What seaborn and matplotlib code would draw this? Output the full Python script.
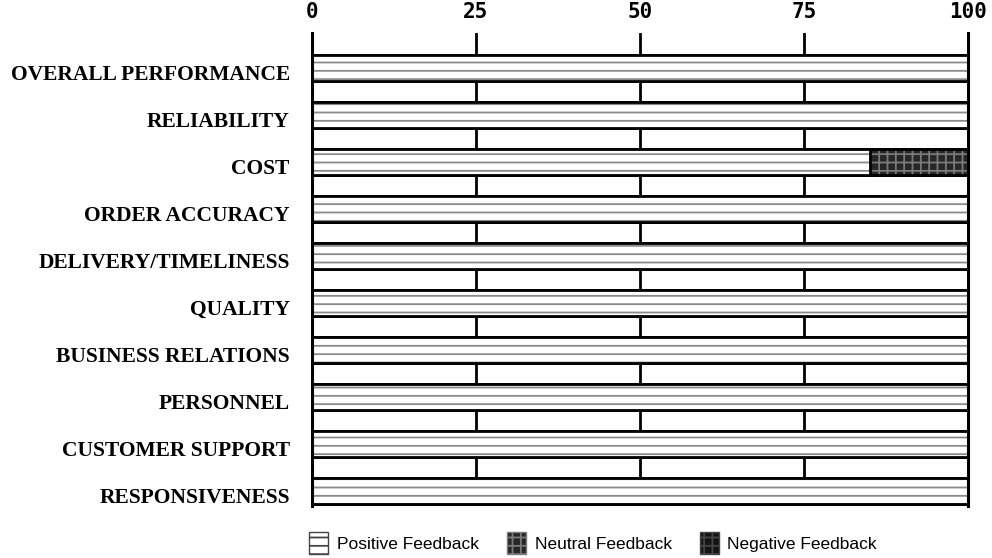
import matplotlib
matplotlib.use("Agg")
import matplotlib.pyplot as plt
import matplotlib.transforms as mtransforms
from matplotlib.patches import Patch
import seaborn as sns
import pandas as pd

categories = ["OVERALL PERFORMANCE", "RELIABILITY", "COST", "ORDER ACCURACY",
              "DELIVERY/TIMELINESS", "QUALITY", "BUSINESS RELATIONS",
              "PERSONNEL", "CUSTOMER SUPPORT", "RESPONSIVENESS"]
positive = [100, 100, 85, 100, 100, 100, 100, 100, 100, 100]
neutral = [0, 0, 15, 0, 0, 0, 0, 0, 0, 0]
negative = [0, 0, 0, 0, 0, 0, 0, 0, 0, 0]
x_ticks = [0, 25, 50, 75, 100]
legend_labels = ["Positive Feedback", "Neutral Feedback", "Negative Feedback"]

df = pd.DataFrame({"category": categories, "positive": positive,
                   "neutral": neutral, "negative": negative})
df["cum_neu"] = df["positive"] + df["neutral"]
df["cum_neg"] = df["cum_neu"] + df["negative"]

sns.set_style("white")
plt.rcParams["hatch.linewidth"] = 1.3
plt.rcParams["text.color"] = "black"
plt.rcParams["xtick.color"] = "black"
plt.rcParams["ytick.color"] = "black"

fig = plt.figure(figsize=(9.92, 5.58), dpi=100)
ax = fig.add_axes([0.3145, 0.0932, 0.9758 - 0.3145, 0.9409 - 0.0932])

styles = [
    ("cum_neg", "#141414", "#444444", "++"),
    ("cum_neu", "#262626", "#7a7a7a", "++"),
    ("positive", "white", "#8a8a8a", "--"),
]
for col, fc, hc, hatch in styles:
    # hatched fill
    n0 = len(ax.patches)
    sns.barplot(data=df, x=col, y="category", orient="h", width=0.55,
                color=fc, saturation=1, ax=ax)
    for p in ax.patches[n0:]:
        p.set_facecolor(fc)
        p.set_edgecolor(hc)
        p.set_hatch(hatch)
        p.set_linewidth(0)
    # black outline
    n1 = len(ax.patches)
    sns.barplot(data=df, x=col, y="category", orient="h", width=0.55,
                color="black", saturation=1, ax=ax)
    for p in ax.patches[n1:]:
        p.set_facecolor("none")
        p.set_edgecolor("black")
        p.set_linewidth(2)

ax.set_xlim(0, 100)
ax.set_ylim(9.32, -0.75)
ax.set_xticks(x_ticks)
ax.xaxis.tick_top()
ax.tick_params(axis="x", length=0, pad=8)
ax.tick_params(axis="y", length=0, pad=16)
for lab in ax.get_xticklabels():
    lab.set_fontfamily("DejaVu Sans Mono")
    lab.set_fontweight("bold")
    lab.set_fontsize(15)
    lab.set_color("black")
shift = mtransforms.ScaledTranslation(0, -3 / 72, fig.dpi_scale_trans)
for lab in ax.get_yticklabels():
    lab.set_fontfamily("Liberation Serif")
    lab.set_fontweight("bold")
    lab.set_fontsize(15.5)
    lab.set_color("black")
    lab.set_transform(lab.get_transform() + shift)
ax.set_xlabel("")
ax.set_ylabel("")
ax.xaxis.grid(True, color="black", linewidth=2)
ax.set_axisbelow(True)
for s in ["top", "bottom"]:
    ax.spines[s].set_visible(False)
for s in ["left", "right"]:
    ax.spines[s].set_visible(True)
    ax.spines[s].set_color("black")
    ax.spines[s].set_linewidth(2.2)

handles = [
    Patch(facecolor="white", edgecolor="#444444", hatch="--", label=legend_labels[0]),
    Patch(facecolor="#262626", edgecolor="#7a7a7a", hatch="++", label=legend_labels[1]),
    Patch(facecolor="#141414", edgecolor="#444444", hatch="++", label=legend_labels[2]),
]
leg = fig.legend(handles=handles, loc="center", bbox_to_anchor=(0.598, 0.027),
                 ncol=3, frameon=False, handlelength=1.1, handleheight=1.5,
                 handletextpad=0.5, columnspacing=1.6,
                 prop={"family": "Liberation Sans", "size": 12.5})

fig.savefig("out.png", dpi=100)
